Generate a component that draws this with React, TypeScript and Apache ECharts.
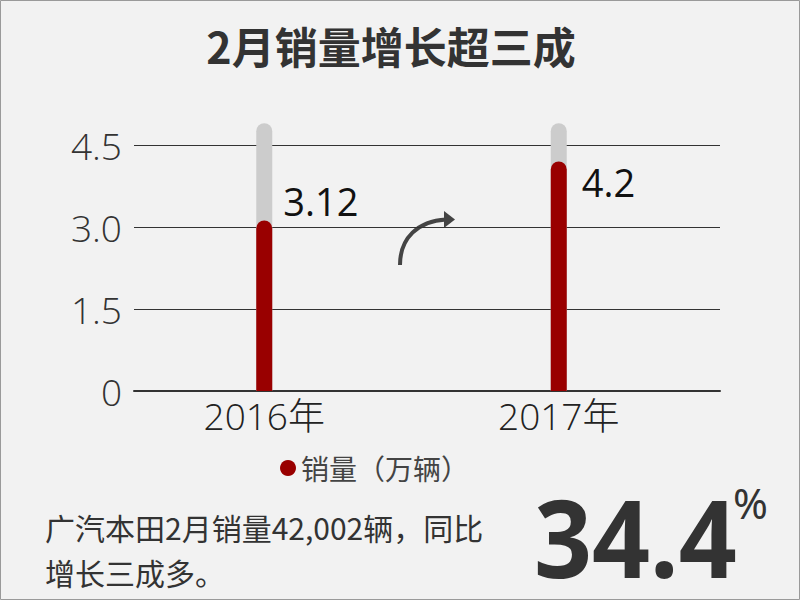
import React, { useEffect, useRef } from "react";
import * as echarts from "echarts";

// ---- data ----
const categories = ["2016年", "2017年"];
const salesValues = [3.12, 4.2];
const trackValues = [4.9, 4.9];
const yTickLabels = ["0", "1.5", "3.0", "4.5"];
const seriesName = "销量（万辆）";
const title = "2月销量增长超三成";
const noteLines = ["广汽本田2月销量42,002辆，同比", "增长三成多。"];
const growthValue = "34.4";
const growthUnit = "%";

const LATIN = "'Open Sans', 'Noto Sans', 'Noto Sans CJK SC', sans-serif";
const CJK = "'Noto Sans CJK SC', 'Noto Sans', sans-serif";

export default function App() {
  const ref = useRef<HTMLDivElement>(null);

  useEffect(() => {
    document.body.style.margin = "0";
    if (!ref.current) return;
    const chart = echarts.init(ref.current, undefined, { renderer: "svg" });

    const labelOffsets: [number, number][] = [
      [27, -19],
      [31, 21],
    ];

    const option: any = {
      animation: false,
      backgroundColor: "#f2f2f2",
      legend: {
        data: [seriesName],
        left: 275,
        top: 449,
        icon: "circle",
        itemWidth: 16,
        itemHeight: 16,
        textStyle: { fontSize: 28, color: "#444", fontFamily: CJK },
      },
      grid: [
        { left: 134, right: 80, top: 145, bottom: 209 },
        { left: 117, right: 94, top: 145, bottom: 209 },
      ],
      xAxis: [
        {
          type: "category",
          gridIndex: 0,
          data: categories,
          axisLabel: { show: false },
          axisTick: { show: false },
          axisLine: { lineStyle: { color: "#333", width: 2 } },
        },
        {
          type: "category",
          gridIndex: 1,
          data: categories,
          axisLine: { show: false },
          axisTick: { show: false },
          axisLabel: {
            fontSize: 37,
            color: "#222",
            margin: 6,
            fontFamily: LATIN,
            fontWeight: 300,
          },
        },
      ],
      yAxis: [
        {
          type: "value",
          gridIndex: 0,
          min: 0,
          max: 4.5,
          interval: 1.5,
          axisLine: { show: false },
          axisTick: { show: false },
          splitLine: { lineStyle: { color: "#333", width: 1 } },
          axisLabel: {
            fontSize: 37,
            color: "#333",
            margin: 12,
            fontFamily: LATIN,
            fontWeight: 300,
            formatter: (v: number) => yTickLabels[Math.round(v / 1.5)] ?? String(v),
          },
        },
        {
          type: "value",
          gridIndex: 1,
          min: 0,
          max: 4.5,
          interval: 1.5,
          show: false,
          splitLine: { show: false },
        },
      ],
      series: [
        {
          name: "track",
          type: "bar",
          xAxisIndex: 1,
          yAxisIndex: 1,
          data: trackValues,
          barWidth: 16,
          clip: false,
          silent: true,
          itemStyle: { color: "#cccccc", borderRadius: [8, 8, 0, 0] },
          z: 2,
        },
        {
          name: seriesName,
          type: "bar",
          xAxisIndex: 1,
          yAxisIndex: 1,
          barWidth: 16,
          barGap: "-100%",
          clip: false,
          z: 3,
          itemStyle: { color: "#990000", borderRadius: [8, 8, 0, 0] },
          data: salesValues.map((v, i) => ({
            value: v,
            label: { position: labelOffsets[i] },
          })),
          label: {
            show: true,
            formatter: "{c}",
            fontSize: 38,
            color: "#111",
            fontFamily: LATIN,
            verticalAlign: "middle",
            align: "left",
          },
        },
      ],
      graphic: [
        {
          type: "rect",
          shape: { x: 0.5, y: 0.5, width: 799, height: 599 },
          style: { fill: "none", stroke: "#9a9a9a", lineWidth: 1 },
          silent: true,
        },
        {
          type: "text",
          x: 391,
          y: 45,
          style: {
            text: title,
            fontSize: 43,
            fontWeight: "bold",
            fontFamily: CJK,
            fill: "#333",
            textAlign: "center",
            textVerticalAlign: "middle",
          },
        },
        {
          type: "bezierCurve",
          shape: {
            x1: 400,
            y1: 265,
            cpx1: 400,
            cpy1: 238,
            cpx2: 418,
            cpy2: 221,
            x2: 446,
            y2: 219.5,
          },
          style: { stroke: "#444", lineWidth: 4, fill: "none" },
        },
        {
          type: "polygon",
          shape: {
            points: [
              [444, 211],
              [455, 219.5],
              [444, 228],
            ],
          },
          style: { fill: "#444" },
        },
        {
          type: "text",
          x: 45,
          y: 527,
          style: {
            text: noteLines[0],
            fontSize: 30,
            fontFamily: CJK,
            fill: "#333",
            textVerticalAlign: "middle",
          },
        },
        {
          type: "text",
          x: 45,
          y: 572,
          style: {
            text: noteLines[1],
            fontSize: 30,
            fontFamily: CJK,
            fill: "#333",
            textVerticalAlign: "middle",
          },
        },
        {
          type: "text",
          x: 534,
          y: 536,
          scaleX: 0.94,
          style: {
            text: growthValue,
            fontSize: 108,
            fontWeight: "bold",
            fontFamily: "'Noto Sans', 'Open Sans', sans-serif",
            fill: "#333",
            textVerticalAlign: "middle",
          },
        },
        {
          type: "text",
          x: 733,
          y: 502,
          style: {
            text: growthUnit,
            fontSize: 42,
            fontFamily: "'Noto Sans', sans-serif",
            fill: "#333",
            textVerticalAlign: "middle",
          },
        },
      ],
    };

    chart.setOption(option);
    return () => chart.dispose();
  }, []);

  return <div ref={ref} style={{ width: 800, height: 600 }} />;
}
